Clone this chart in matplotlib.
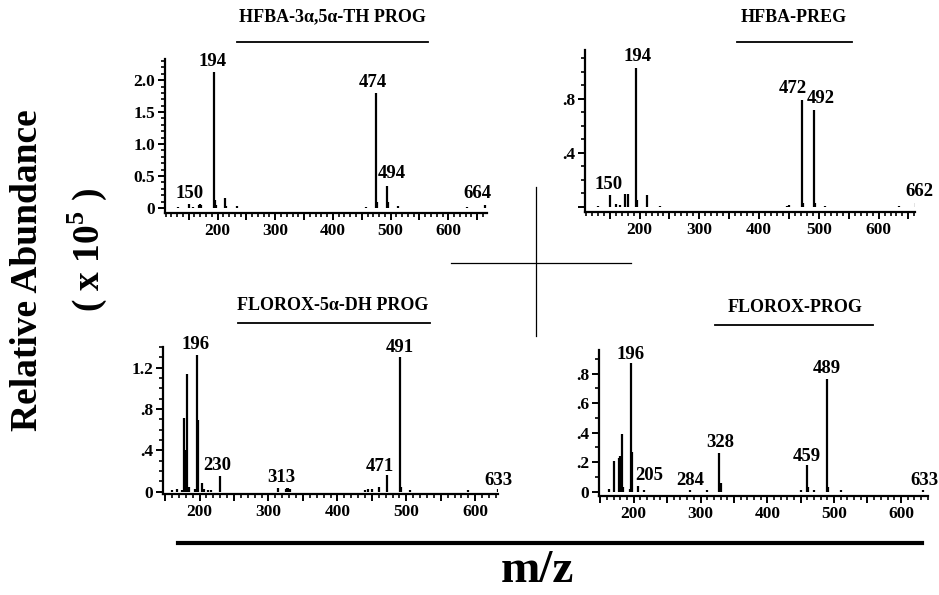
import matplotlib
matplotlib.use('Agg')
import matplotlib.pyplot as plt
from matplotlib.lines import Line2D
from matplotlib.ticker import MultipleLocator

plt.rcParams['font.family'] = ['Liberation Serif', 'DejaVu Serif']
plt.rcParams['font.weight'] = 'bold'
plt.rcParams['mathtext.fontset'] = 'custom'
plt.rcParams['mathtext.rm'] = 'Liberation Serif:bold'
plt.rcParams['mathtext.bf'] = 'Liberation Serif:bold'

# ---- datos (m/z, abundancia relativa x 10^5) ----
# HFBA-3a,5a-TH PROG
p1_mz = [131, 151, 157, 168, 170, 172, 194, 196, 198, 213, 215, 233, 457, 474, 476, 494, 496, 513, 633, 664]
p1_int = [0.01, 0.07, 0.02, 0.05, 0.06, 0.05, 2.12, 0.12, 0.04, 0.15, 0.03, 0.03, 0.02, 1.80, 0.10, 0.34, 0.10, 0.03, 0.02, 0.05]
p1_labels = ['150', '194', '474', '494', '664']

# HFBA-PREG
p2_mz = [130, 150, 160, 168, 176, 180, 194, 196, 213, 234, 446, 450, 472, 474, 492, 494, 510, 635, 662]
p2_int = [0.01, 0.087, 0.025, 0.015, 0.094, 0.094, 1.03, 0.05, 0.087, 0.01, 0.01, 0.015, 0.79, 0.03, 0.72, 0.03, 0.01, 0.01, 0.03]
p2_labels = ['150', '194', '472', '492', '662']

# FLOROX-5a-DH PROG
p3_mz = [160, 167, 175, 178, 180, 182, 184, 194, 196, 198, 203, 207, 212, 216, 230, 314, 325, 327, 329, 331,
         440, 445, 450, 460, 472, 491, 493, 505, 590, 633]
p3_int = [0.02, 0.03, 0.02, 0.71, 0.40, 1.14, 0.05, 0.03, 1.32, 0.69, 0.08, 0.03, 0.02, 0.02, 0.15, 0.04, 0.03, 0.04, 0.04, 0.03,
          0.02, 0.03, 0.03, 0.05, 0.16, 1.30, 0.05, 0.02, 0.02, 0.03]
p3_labels = ['196', '230', '313', '471', '491', '633']

# FLOROX-PROG
p4_mz = [163, 170, 178, 180, 182, 184, 194, 196, 198, 207, 215, 284, 310, 328, 330, 450, 459, 461, 470, 489, 491, 510, 633]
p4_int = [0.02, 0.21, 0.23, 0.24, 0.39, 0.03, 0.02, 0.87, 0.27, 0.04, 0.01, 0.01, 0.01, 0.26, 0.06, 0.01, 0.18, 0.03, 0.01, 0.76, 0.03, 0.01, 0.01]
p4_labels = ['196', '205', '284', '328', '459', '489', '633']

titles = ['HFBA-3\u03b1,5\u03b1-TH PROG', 'HFBA-PREG', 'FLOROX-5\u03b1-DH PROG', 'FLOROX-PROG']
# ------------------------------------------------

W, H = 939, 595
fig = plt.figure(figsize=(W / 100, H / 100), dpi=100)


def px_axes(l, t, r, b):
   return fig.add_axes([l / W, 1 - b / H, (r - l) / W, (b - t) / H])


def espectro(ax, mz, inten, xlim, ylim, yt, ytl, ymin, labels, lab_pos):
   ax.vlines(mz, 0, inten, color='black', lw=1.6)
   ax.set_xlim(*xlim)
   ax.set_ylim(*ylim)
   for s in ['top', 'right']:
      ax.spines[s].set_visible(False)
   for s in ['left', 'bottom']:
      ax.spines[s].set_linewidth(1.6)
   xt = [v for v in range(150, 700, 50) if xlim[0] <= v <= xlim[1]]
   ax.set_xticks(xt)
   ax.set_xticklabels([str(v) if v % 100 == 0 else '' for v in xt])
   ax.xaxis.set_minor_locator(MultipleLocator(10))
   ax.set_yticks(yt)
   ax.set_yticklabels(ytl)
   ax.yaxis.set_minor_locator(MultipleLocator(ymin))
   ax.tick_params(axis='both', which='major', length=5, width=1.4, labelsize=12.5, pad=2)
   ax.tick_params(axis='both', which='minor', length=3, width=1.2)
   for lb in ax.get_xticklabels() + ax.get_yticklabels():
      lb.set_fontweight('bold')
   for s, (x, y) in zip(labels, lab_pos):
      ax.text(x, y, s, ha='center', va='bottom', fontsize=13.5, fontweight='bold', clip_on=False)


ax1 = px_axes(165, 59, 487, 213)
espectro(ax1, p1_mz, p1_int, (109, 667), (-0.078, 2.33),
         [0, 0.5, 1.0, 1.5, 2.0], ['0', '0.5', '1.0', '1.5', '2.0'], 0.1,
         p1_labels, [(151, 0.09), (192, 2.16), (469, 1.83), (502, 0.41), (650, 0.09)])

ax2 = px_axes(585, 50, 915, 212)
espectro(ax2, p2_mz, p2_int, (108.6, 661), (-0.037, 1.16),
         [0, 0.4, 0.8], ['', '.4', '.8'], 0.1,
         p2_labels, [(148, 0.10), (196, 1.05), (456, 0.81), (503, 0.74), (668, 0.05)])

ax3 = px_axes(163, 347, 498, 494)
espectro(ax3, p3_mz, p3_int, (147, 633), (-0.022, 1.40),
         [0, 0.4, 0.8, 1.2], ['0', '.4', '.8', '1.2'], 0.1,
         p3_labels, [(194, 1.34), (225, 0.17), (318, 0.06), (462, 0.16), (491, 1.31), (634, 0.03)])

ax4 = px_axes(599, 350, 928, 496)
espectro(ax4, p4_mz, p4_int, (148, 640.6), (-0.03, 0.96),
         [0, 0.2, 0.4, 0.6, 0.8], ['0', '.2', '.4', '.6', '.8'], 0.1,
         p4_labels, [(195, 0.87), (223, 0.05), (285, 0.015), (329, 0.275), (459, 0.18), (489, 0.775), (636, 0.015)])

# titulos con subrayado
tit_pos = [(332, 17, 237, 428, 42), (794, 17, 737, 852, 42), (333, 305, 238, 430, 323), (795, 307, 715, 873, 325)]
for t, (cx, cy, x0, x1, uy) in zip(titles, tit_pos):
   fig.text(cx / W, 1 - cy / H, t, ha='center', va='center', fontsize=13, fontweight='bold')
   fig.add_artist(Line2D([x0 / W, x1 / W], [1 - uy / H, 1 - uy / H], color='black', lw=1.3))

# cruz central
fig.add_artist(Line2D([536 / W, 536 / W], [1 - 187 / H, 1 - 336 / H], color='black', lw=0.9))
fig.add_artist(Line2D([451 / W, 631 / W], [1 - 263 / H, 1 - 263 / H], color='black', lw=0.9))

# eje comun
fig.add_artist(Line2D([178 / W, 922 / W], [1 - 543 / H, 1 - 543 / H], color='black', lw=3))
fig.text(537 / W, 1 - 571 / H, 'm/z', ha='center', va='center', fontsize=34, fontweight='bold')

fig.text(28 / W, 1 - 270 / H, 'Relative Abundance', rotation=90, ha='center', va='center',
         fontsize=27, fontweight='bold')
fig.text(87 / W, 1 - 250 / H, '( x 10$^{5}$ )', rotation=90, ha='center', va='center',
         fontsize=27, fontweight='bold')

fig.savefig('out.png', dpi=100)
